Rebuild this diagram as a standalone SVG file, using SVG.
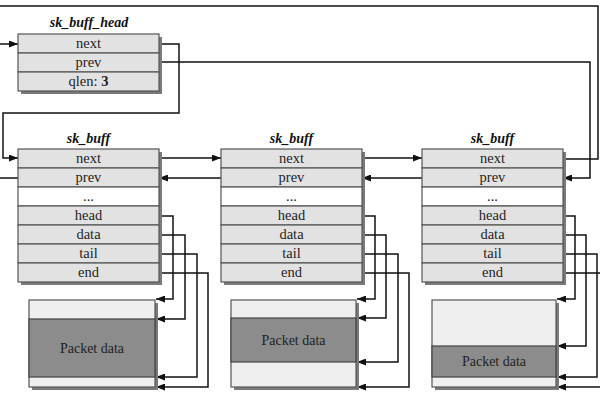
<svg xmlns="http://www.w3.org/2000/svg" width="600" height="400" viewBox="0 0 600 400">
<style>
.sh{fill:#7a7a7a}
.row{fill:#e2e2e2;stroke:#555;stroke-width:1.2}
.blank{fill:#ffffff;stroke:#555;stroke-width:1.2}
.t{font-family:"Liberation Serif",serif;font-size:14.5px;fill:#222;text-anchor:middle}
.p{font-size:14px}
.ttl{font-family:"Liberation Serif",serif;font-size:14px;font-weight:bold;font-style:italic;fill:#111;text-anchor:middle}
.lt{fill:#efefef;stroke:#555;stroke-width:1.2}
.dk{fill:#8c8c8c;stroke:#444;stroke-width:1.2}
.c{fill:none;stroke:#111;stroke-width:1.5}
.a{marker-end:url(#ah)}
</style>
<defs>
<marker id="ah" markerUnits="userSpaceOnUse" markerWidth="9" markerHeight="7" refX="9" refY="3.5" orient="auto">
<path d="M0,0 L9,3.5 L0,7 z" fill="#111"/>
</marker>
</defs>
<rect width="600" height="400" fill="#fff"/>

<g id="connectors">
<path class="c a" d="M0,44 H18"/>
<path class="c a" d="M160,44 H179 V113 H3 V158 H18"/>
<path class="c a" d="M160,62 H590 V178 H563"/>
<path class="c a" d="M159,158 H221"/>
<path class="c a" d="M362,158 H422"/>
<path class="c" d="M563,159 H598 V6 H0"/>
<path class="c a" d="M221,178 H159"/>
<path class="c a" d="M422,178 H362"/>
<path class="c" d="M18,178 H0"/>
<!-- node1 pointers -->
<path class="c a" d="M159,216 H173 V299 H156"/>
<path class="c a" d="M159,235 H185 V319 H156"/>
<path class="c a" d="M159,254 H197 V377 H156"/>
<path class="c a" d="M159,273 H208 V387 H156"/>
<!-- node2 pointers -->
<path class="c a" d="M362,216 H375 V299 H357"/>
<path class="c a" d="M362,235 H386 V318 H357"/>
<path class="c a" d="M362,254 H398 V362 H357"/>
<path class="c a" d="M362,273 H409 V387 H357"/>
<!-- node3 pointers -->
<path class="c a" d="M563,216 H575 V299 H557"/>
<path class="c a" d="M563,235 H586 V346 H557"/>
<path class="c a" d="M563,254 H597 V377 H557"/>
<path class="c a" d="M563,273 H608 V387 H557"/>
</g>

<g id="sk_buff_head">
<text class="ttl" x="89" y="27">sk_buff_head</text>
<rect class="sh" x="21" y="37" width="141" height="57"/>
<rect class="row" x="18" y="34" width="141" height="19"/>
<rect class="row" x="18" y="53" width="141" height="19"/>
<rect class="row" x="18" y="72" width="141" height="19"/>
<text class="t" x="88.5" y="48">next</text>
<text class="t" x="88.5" y="67">prev</text>
<text class="t" x="88.5" y="86">qlen: <tspan font-weight="bold">3</tspan></text>
</g>

<g id="sk_buff_1">
<text class="ttl" x="88.5" y="143">sk_buff</text>
<rect class="sh" x="21" y="152" width="141" height="133"/>
<rect class="row" x="18" y="149" width="141" height="19"/>
<rect class="row" x="18" y="168" width="141" height="19"/>
<rect class="blank" x="18" y="187" width="141" height="19"/>
<rect class="row" x="18" y="206" width="141" height="19"/>
<rect class="row" x="18" y="225" width="141" height="19"/>
<rect class="row" x="18" y="244" width="141" height="19"/>
<rect class="row" x="18" y="263" width="141" height="19"/>
<text class="t" x="88.5" y="163">next</text>
<text class="t" x="88.5" y="182">prev</text>
<text class="t" x="88.5" y="201">...</text>
<text class="t" x="88.5" y="220">head</text>
<text class="t" x="88.5" y="239">data</text>
<text class="t" x="88.5" y="258">tail</text>
<text class="t" x="88.5" y="277">end</text>
</g>

<g id="sk_buff_2">
<text class="ttl" x="291.5" y="143">sk_buff</text>
<rect class="sh" x="224" y="152" width="141" height="133"/>
<rect class="row" x="221" y="149" width="141" height="19"/>
<rect class="row" x="221" y="168" width="141" height="19"/>
<rect class="blank" x="221" y="187" width="141" height="19"/>
<rect class="row" x="221" y="206" width="141" height="19"/>
<rect class="row" x="221" y="225" width="141" height="19"/>
<rect class="row" x="221" y="244" width="141" height="19"/>
<rect class="row" x="221" y="263" width="141" height="19"/>
<text class="t" x="291.5" y="163">next</text>
<text class="t" x="291.5" y="182">prev</text>
<text class="t" x="291.5" y="201">...</text>
<text class="t" x="291.5" y="220">head</text>
<text class="t" x="291.5" y="239">data</text>
<text class="t" x="291.5" y="258">tail</text>
<text class="t" x="291.5" y="277">end</text>
</g>

<g id="sk_buff_3">
<text class="ttl" x="492.5" y="143">sk_buff</text>
<rect class="sh" x="425" y="152" width="141" height="133"/>
<rect class="row" x="422" y="149" width="141" height="19"/>
<rect class="row" x="422" y="168" width="141" height="19"/>
<rect class="blank" x="422" y="187" width="141" height="19"/>
<rect class="row" x="422" y="206" width="141" height="19"/>
<rect class="row" x="422" y="225" width="141" height="19"/>
<rect class="row" x="422" y="244" width="141" height="19"/>
<rect class="row" x="422" y="263" width="141" height="19"/>
<text class="t" x="492.5" y="163">next</text>
<text class="t" x="492.5" y="182">prev</text>
<text class="t" x="492.5" y="201">...</text>
<text class="t" x="492.5" y="220">head</text>
<text class="t" x="492.5" y="239">data</text>
<text class="t" x="492.5" y="258">tail</text>
<text class="t" x="492.5" y="277">end</text>
</g>

<g id="packet_1">
<rect class="sh" x="32" y="303" width="126" height="87"/>
<rect class="lt" x="29" y="300" width="126" height="87"/>
<rect class="dk" x="29" y="319" width="126" height="58"/>
<text class="t p" x="92" y="353">Packet data</text>
</g>

<g id="packet_2">
<rect class="sh" x="234" y="303" width="125" height="87"/>
<rect class="lt" x="231" y="300" width="125" height="87"/>
<rect class="dk" x="231" y="318" width="125" height="44"/>
<text class="t p" x="293.5" y="345">Packet data</text>
</g>

<g id="packet_3">
<rect class="sh" x="435" y="303" width="124" height="87"/>
<rect class="lt" x="432" y="300" width="124" height="87"/>
<rect class="dk" x="432" y="346" width="124" height="31"/>
<text class="t p" x="494" y="366">Packet data</text>
</g>
</svg>
